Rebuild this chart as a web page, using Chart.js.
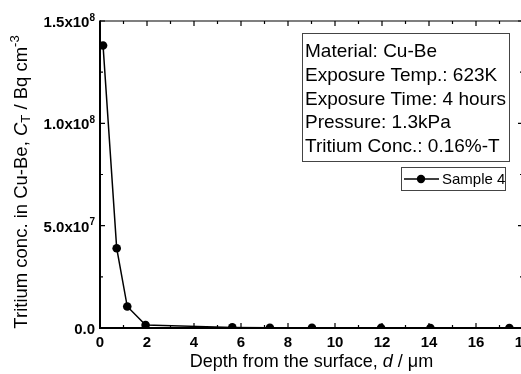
<!DOCTYPE html>
<html>
<head>
<meta charset="utf-8">
<script src="https://cdn.jsdelivr.net/npm/chart.js@4.4.1/dist/chart.umd.min.js"></script>
<style>
  html, body { margin: 0; padding: 0; background: #fff; overflow: hidden; }
  #wrap { width: 530px; height: 374px; }
</style>
</head>
<body>
<div id="wrap"><canvas id="chart"></canvas></div>
<script>
const depth = [0.13, 0.71, 1.16, 1.94, 5.63, 7.23, 9.02, 11.96, 14.06, 17.42];
const conc = [1.38e8, 3.9e7, 1.05e7, 1.5e6, 3e5, 1e5, 6e4, 4e4, 2e4, 1e4];
const seriesName = 'Sample 4';

const xTicks = [0, 2, 4, 6, 8, 10, 12, 14, 16, 18];
const xMinor = [1, 3, 5, 7, 9, 11, 13, 15, 17];
const yTicks = [0, 5e7, 1e8, 1.5e8];
const yMinor = [2.5e7, 7.5e7, 1.25e8];
const yTickBase = ['0.0', '5.0x10', '1.0x10', '1.5x10'];
const yTickExp = ['', '7', '8', '8'];

const infoLines = [
    'Material: Cu-Be',
    'Exposure Temp.: 623K',
    'Exposure Time: 4 hours',
    'Pressure: 1.3kPa',
    'Tritium Conc.: 0.16%-T'
];

const FONT = '"Liberation Sans", Arial, sans-serif';

// draw a row of text pieces with their own fonts and vertical shifts
function drawRich(ctx, parts, x, y, align) {
    let total = 0;
    parts.forEach(p => { ctx.font = p.font; p.w = ctx.measureText(p.t).width; total += p.w; });
    let cx = align === 'center' ? x - total / 2 : align === 'right' ? x - total : x;
    ctx.textAlign = 'left';
    ctx.textBaseline = 'middle';
    parts.forEach(p => { ctx.font = p.font; ctx.fillText(p.t, cx, y + (p.dy || 0)); cx += p.w; });
}

const decor = {
    id: 'decor',
    afterDraw(chart) {
        const ctx = chart.ctx;
        const a = chart.chartArea;
        const xs = chart.scales.x, ys = chart.scales.y;
        ctx.save();
        ctx.fillStyle = '#000';
        ctx.strokeStyle = '#000';

        // frame
        ctx.lineWidth = 1.2;
        ctx.beginPath();
        ctx.moveTo(a.left, a.top); ctx.lineTo(a.right, a.top);
        ctx.moveTo(a.right, a.top); ctx.lineTo(a.right, a.bottom);
        ctx.stroke();
        ctx.lineWidth = 2;
        ctx.beginPath();
        ctx.moveTo(a.left, a.top - 0.6); ctx.lineTo(a.left, a.bottom);
        ctx.lineTo(a.right, a.bottom);
        ctx.stroke();

        // inward ticks
        ctx.lineWidth = 1.2;
        ctx.beginPath();
        const xt = (v, len) => {
            const px = xs.getPixelForValue(v);
            ctx.moveTo(px, a.bottom); ctx.lineTo(px, a.bottom - len);
            ctx.moveTo(px, a.top); ctx.lineTo(px, a.top + len);
        };
        const yt = (v, len) => {
            const py = ys.getPixelForValue(v);
            ctx.moveTo(a.left, py); ctx.lineTo(a.left + len, py);
            ctx.moveTo(a.right, py); ctx.lineTo(a.right - len, py);
        };
        xTicks.forEach(v => xt(v, 5));
        xMinor.forEach(v => xt(v, 3));
        yTicks.forEach(v => yt(v, 5));
        yMinor.forEach(v => yt(v, 3));
        ctx.stroke();

        // tick labels
        ctx.font = 'bold 15px ' + FONT;
        ctx.textAlign = 'center';
        ctx.textBaseline = 'middle';
        xTicks.forEach(v => ctx.fillText(String(v), xs.getPixelForValue(v), a.bottom + 15));
        yTicks.forEach((v, i) => {
            const py = ys.getPixelForValue(v) + 2;
            drawRich(ctx, [
                { t: yTickBase[i], font: 'bold 15px ' + FONT },
                { t: yTickExp[i], font: 'bold 10px ' + FONT, dy: -5 }
            ], a.left - 5, py, 'right');
        });

        // axis titles
        const reg = '18px ' + FONT, ita = 'italic 18px ' + FONT;
        drawRich(ctx, [
            { t: 'Depth from the surface, ', font: reg },
            { t: 'd', font: ita },
            { t: ' / \u03bcm', font: reg }
        ], (a.left + a.right) / 2, a.bottom + 34, 'center');
        const yreg = '18.5px ' + FONT, yita = 'italic 18.5px ' + FONT, sm = '13px ' + FONT;
        ctx.save();
        ctx.translate(22, 182);
        ctx.rotate(-Math.PI / 2);
        drawRich(ctx, [
            { t: 'Tritium conc. in Cu-Be, ', font: yreg },
            { t: 'C', font: yita },
            { t: 'T', font: sm, dy: 4 },
            { t: ' / Bq cm', font: yreg },
            { t: '-3', font: sm, dy: -7 }
        ], 0, 0, 'center');
        ctx.restore();

        // info box
        ctx.strokeStyle = '#444';
        ctx.lineWidth = 1;
        ctx.strokeRect(302.5, 33.5, 207, 128);
        ctx.font = '19px ' + FONT;
        ctx.textAlign = 'left';
        ctx.textBaseline = 'middle';
        infoLines.forEach((t, i) => ctx.fillText(t, 305, 52 + i * 23.75));

        // legend
        ctx.strokeRect(401.5, 167.5, 104, 23);
        ctx.strokeStyle = '#000';
        ctx.lineWidth = 1.5;
        ctx.beginPath();
        ctx.moveTo(404, 179); ctx.lineTo(439, 179);
        ctx.stroke();
        ctx.beginPath();
        ctx.arc(421, 179, 4.2, 0, Math.PI * 2);
        ctx.fill();
        ctx.font = '15px ' + FONT;
        ctx.fillText(chart.data.datasets[0].label, 442, 180);
        ctx.restore();
    }
};

new Chart(document.getElementById('chart'), {
    type: 'line',
    data: {
        datasets: [{
            label: seriesName,
            data: depth.map((d, i) => ({ x: d, y: conc[i] })),
            borderColor: '#000',
            backgroundColor: '#000',
            borderWidth: 1.5,
            pointRadius: 4.3,
            pointBorderWidth: 0,
            tension: 0,
            clip: 0
        }]
    },
    options: {
        responsive: true,
        maintainAspectRatio: false,
        animation: false,
        layout: { padding: { left: 100, top: 21, right: 7, bottom: 46 } },
        plugins: { legend: { display: false }, tooltip: { enabled: false } },
        scales: {
            x: { type: 'linear', min: 0, max: 18, display: false },
            y: { type: 'linear', min: 0, max: 1.5e8, display: false }
        }
    },
    plugins: [decor]
});
</script>
</body>
</html>
